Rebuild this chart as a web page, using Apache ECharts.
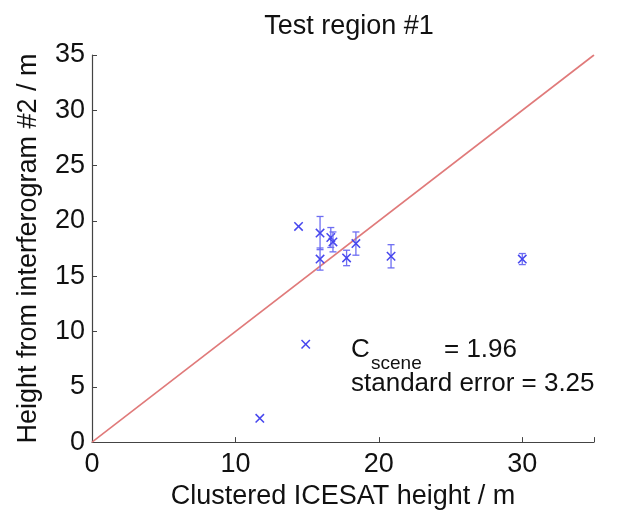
<!DOCTYPE html>
<html><head><meta charset="utf-8">
<script src="https://cdn.jsdelivr.net/npm/echarts@6/dist/echarts.min.js"></script>
<style>html,body{margin:0;padding:0;background:#fff}#c{width:620px;height:515px}</style>
</head><body><div id="c"></div>
<script>
var xTicks = [0, 10, 20, 30];
var yTicks = [0, 5, 10, 15, 20, 25, 30, 35];
var icesatHeight = [11.7, 14.9, 14.4, 15.9, 15.9, 16.65, 16.8, 17.75, 18.4, 20.85, 30.0];
var ifgHeight    = [2.15, 8.85, 19.5, 18.9, 16.55, 18.5, 18.1, 16.65, 17.95, 16.8, 16.55];
var ifgError     = [0, 0, 0, 1.5, 1.0, 0.9, 0.9, 0.7, 1.05, 1.05, 0.5];
var oneToOne = [[0, 0], [35, 35]];
var cScene = '1.96';
var stdErr = '3.25';

var pts = icesatHeight.map(function (x, i) { return [x, ifgHeight[i], ifgError[i]]; });
var font = 'Liberation Sans, Arial, sans-serif';
var fs = 27;
var chart = echarts.init(document.getElementById('c'));
chart.setOption({
  animation: false,
  title: { text: 'Test region #1', left: 344, top: 8, textAlign: 'center',
    textStyle: { fontFamily: font, fontSize: fs, fontWeight: 'normal', color: '#111' } },
  grid: { left: 92, right: 26, top: 55, bottom: 71 },
  xAxis: {
    type: 'value', min: 0, max: 35, interval: 10,
    name: 'Clustered ICESAT height / m', nameLocation: 'middle', nameGap: 37,
    nameTextStyle: { fontFamily: font, fontSize: fs, color: '#111' },
    axisLine: { lineStyle: { color: '#444', width: 1.2 } },
    axisTick: { inside: true, length: 5, lineStyle: { color: '#444' } },
    axisLabel: { fontFamily: font, fontSize: fs, color: '#111', margin: 9,
      formatter: function (v) { return xTicks.indexOf(v) >= 0 ? String(v) : ''; } },
    splitLine: { show: false }
  },
  yAxis: {
    type: 'value', min: 0, max: 35, interval: 5,
    name: 'Height from interferogram #2 / m', nameLocation: 'middle', nameGap: 50,
    nameTextStyle: { fontFamily: font, fontSize: fs, color: '#111' },
    axisLine: { show: true, lineStyle: { color: '#444', width: 1.2 } },
    axisTick: { show: true, inside: true, length: 5, lineStyle: { color: '#444' } },
    axisLabel: { fontFamily: font, fontSize: fs, color: '#111', margin: 7,
      formatter: function (v) { return yTicks.indexOf(v) >= 0 ? String(v) : ''; } },
    splitLine: { show: false }
  },
  series: [
    { type: 'line', data: oneToOne, symbol: 'none', silent: true,
      lineStyle: { color: '#e07a7a', width: 1.6 }, z: 2 },
    { type: 'custom', data: pts, z: 3,
      renderItem: function (params, api) {
        var x = api.value(0), y = api.value(1), e = api.value(2);
        var c = api.coord([x, y]);
        var s = 4.2, cap = 3.5;
        var children = [];
        var col = '#4646ee';
        var ecol = '#6e6ef2';
        if (e > 0) {
          var t = api.coord([x, y + e]), b = api.coord([x, y - e]);
          children.push({ type: 'line', shape: { x1: c[0], y1: t[1], x2: c[0], y2: b[1] }, style: { stroke: ecol, lineWidth: 1.3 } });
          children.push({ type: 'line', shape: { x1: c[0] - cap, y1: t[1], x2: c[0] + cap, y2: t[1] }, style: { stroke: ecol, lineWidth: 1.3 } });
          children.push({ type: 'line', shape: { x1: c[0] - cap, y1: b[1], x2: c[0] + cap, y2: b[1] }, style: { stroke: ecol, lineWidth: 1.3 } });
        }
        children.push({ type: 'line', shape: { x1: c[0] - s, y1: c[1] - s, x2: c[0] + s, y2: c[1] + s }, style: { stroke: col, lineWidth: 1.5 } });
        children.push({ type: 'line', shape: { x1: c[0] - s, y1: c[1] + s, x2: c[0] + s, y2: c[1] - s }, style: { stroke: col, lineWidth: 1.5 } });
        return { type: 'group', children: children };
      }
    }
  ],
  graphic: [
    { type: 'text', left: 351, top: 337, style: { text: 'C', fontFamily: font, fontSize: 26, fill: '#111' } },
    { type: 'text', left: 371, top: 354, style: { text: 'scene', fontFamily: font, fontSize: 19, fill: '#111' } },
    { type: 'text', left: 444, top: 337, style: { text: '= ' + cScene, fontFamily: font, fontSize: 26, fill: '#111' } },
    { type: 'text', left: 351, top: 371, style: { text: 'standard error = ' + stdErr, fontFamily: font, fontSize: 26, fill: '#111' } }
  ]
});
</script></body></html>
